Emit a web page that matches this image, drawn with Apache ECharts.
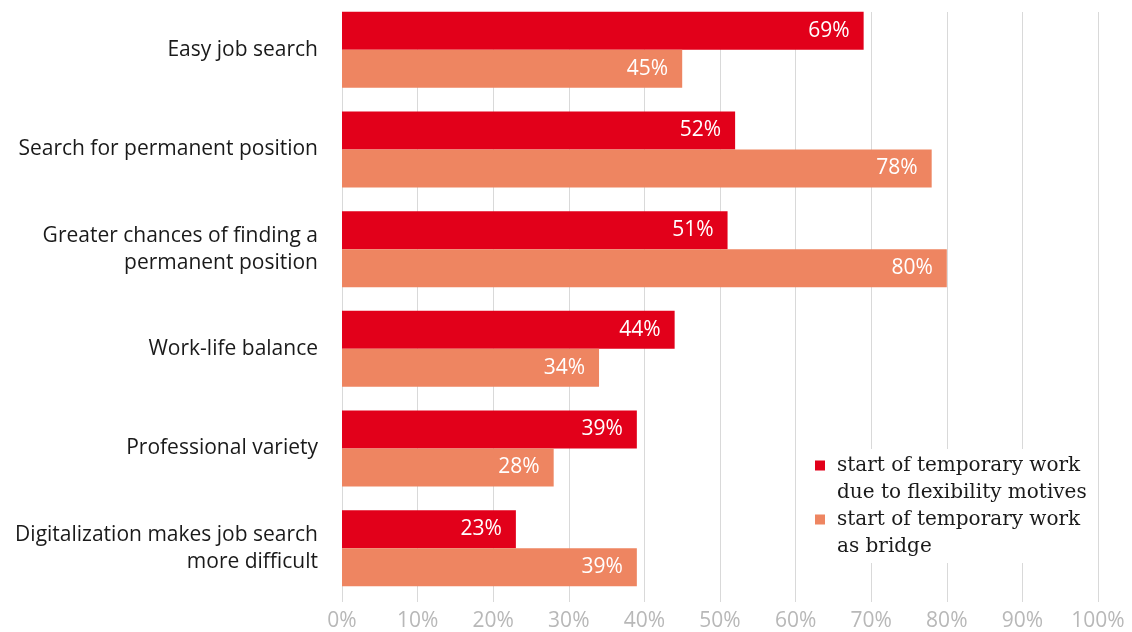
<!DOCTYPE html>
<html><head><meta charset="utf-8">
<script src="https://cdn.jsdelivr.net/npm/echarts@6/dist/echarts.min.js"></script>
<style>html,body{margin:0;padding:0;background:#fff}#c{width:1132px;height:632px}</style>
</head><body><div id="c"></div>
<script>
const categories = ["Easy job search","Search for permanent position","Greater chances of finding a\npermanent position","Work-life balance","Professional variety","Digitalization makes job search\nmore difficult"];
const flexibility = [69,52,51,44,39,23];
const bridge = [45,78,80,34,28,39];
const seriesNames = ["start of temporary work\ndue to flexibility motives","start of temporary work\nas bridge"];
const tickMax = 100, tickStep = 10;

const chart = echarts.init(document.getElementById('c'));
const icon = 'path://M0,0h0.01v0.01z M0,8.5h10v10h-10z M17,54h0.01v0.01z';
const labelStyle = {show:true, position:'insideRight', distance:14, color:'#fff', fontFamily:'Open Sans', fontSize:21, formatter:p=>p.value+'%'};
chart.setOption({
  animation:false,
  grid:[
    {left:342, width:756, top:0, height:598},
    {left:342, width:756, top:12, height:591}
  ],
  xAxis:[
    {gridIndex:0, type:'value', min:0, max:tickMax, interval:tickStep, show:false},
    {gridIndex:1, type:'value', min:0, max:tickMax, interval:tickStep,
     axisLine:{show:false}, axisTick:{show:false},
     splitLine:{show:true, lineStyle:{color:'#d9d9d9', width:1}},
     axisLabel:{color:'#b8b8b8', fontFamily:'Open Sans', fontSize:21, margin:9, formatter:'{value}%'}}
  ],
  yAxis:[
    {gridIndex:0, type:'category', data:categories, inverse:true,
     axisLine:{show:false}, axisTick:{show:false}, splitLine:{show:false},
     axisLabel:{color:'#1a1a1a', fontFamily:'Open Sans', fontSize:21, margin:24, lineHeight:27, align:'right', padding:[3,0,0,0]}},
    {gridIndex:1, type:'category', data:[''], show:false}
  ],
  legend:{
    left:800, top:449, orient:'vertical', itemGap:0,
    backgroundColor:'#fff', padding:[3,6,3,15],
    icon:icon, itemWidth:17, itemHeight:54, selectedMode:false,
    textStyle:{color:'#1a1a1a', fontFamily:'DejaVu Serif', fontSize:20, lineHeight:27},
    data:seriesNames
  },
  series:[
    {name:seriesNames[0], type:'bar', xAxisIndex:0, yAxisIndex:0, data:flexibility, barWidth:38, barGap:'0%', itemStyle:{color:'#e2001a'}, label:labelStyle, z:3},
    {name:seriesNames[1], type:'bar', xAxisIndex:0, yAxisIndex:0, data:bridge, barWidth:38, barGap:'0%', itemStyle:{color:'#ee8561'}, label:labelStyle, z:3}
  ]
});
</script></body></html>
